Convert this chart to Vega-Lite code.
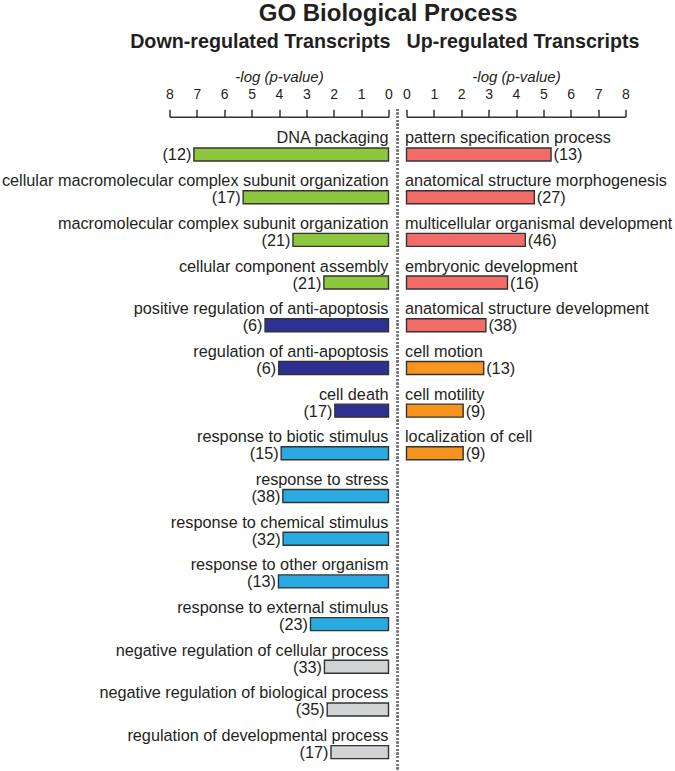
{
  "$schema": "https://vega.github.io/schema/vega-lite/v6.json",
  "padding": {"left": 1.5, "top": 2, "right": 0, "bottom": 0},
  "title": {"text": "GO Biological Process", "fontSize": 24, "fontWeight": "bold", "anchor": "middle", "offset": 6, "dx": 51},
  "datasets": {
    "down": [
      {"term": "DNA packaging", "logp": 7.11, "n": "(12)", "group": "green"},
      {"term": "cellular macromolecular complex subunit organization", "logp": 5.31, "n": "(17)", "group": "green"},
      {"term": "macromolecular complex subunit organization", "logp": 3.49, "n": "(21)", "group": "green"},
      {"term": "cellular component assembly", "logp": 2.36, "n": "(21)", "group": "green"},
      {"term": "positive regulation of anti-apoptosis", "logp": 4.51, "n": "(6)", "group": "navy"},
      {"term": "regulation of anti-apoptosis", "logp": 4.01, "n": "(6)", "group": "navy"},
      {"term": "cell death", "logp": 1.96, "n": "(17)", "group": "navy"},
      {"term": "response to biotic stimulus", "logp": 3.92, "n": "(15)", "group": "cyan"},
      {"term": "response to stress", "logp": 3.86, "n": "(38)", "group": "cyan"},
      {"term": "response to chemical stimulus", "logp": 3.85, "n": "(32)", "group": "cyan"},
      {"term": "response to other organism", "logp": 4.02, "n": "(13)", "group": "cyan"},
      {"term": "response to external stimulus", "logp": 2.85, "n": "(23)", "group": "cyan"},
      {"term": "negative regulation of cellular process\u00a0", "logp": 2.34, "n": "(33)", "group": "gray"},
      {"term": "negative regulation of biological process", "logp": 2.24, "n": "(35)", "group": "gray"},
      {"term": "regulation of developmental process", "logp": 2.1, "n": "(17)", "group": "gray"}
    ],
    "up": [
      {"term": "pattern specification process", "logp": 5.28, "n": "(13)", "group": "salmon"},
      {"term": "anatomical structure morphogenesis", "logp": 4.67, "n": "(27)", "group": "salmon"},
      {"term": "multicellular organismal development", "logp": 4.34, "n": "(46)", "group": "salmon"},
      {"term": "embryonic development", "logp": 3.69, "n": "(16)", "group": "salmon"},
      {"term": "anatomical structure development", "logp": 2.9, "n": "(38)", "group": "salmon"},
      {"term": "cell motion", "logp": 2.82, "n": "(13)", "group": "orange"},
      {"term": "cell motility", "logp": 2.07, "n": "(9)", "group": "orange"},
      {"term": "localization of cell", "logp": 2.07, "n": "(9)", "group": "orange"}
    ]
  },
  "spacing": 18,
  "bounds": "flush",
  "resolve": {"scale": {"x": "independent", "y": "independent", "color": "independent"}},
  "hconcat": [
    {
      "width": 219,
      "height": 663,
      "title": {"text": "Down-regulated Transcripts", "anchor": "end", "frame": "group", "dx": 2, "fontSize": 19.7, "fontWeight": "bold", "offset": 17.5},
      "data": {"name": "down"},
      "resolve": {"axis": {"x": "independent"}},
      "layer": [
        {
          "mark": {"type": "bar", "height": 13, "yOffset": 7, "stroke": "#333333", "strokeWidth": 1.4},
          "encoding": {
            "y": {"field": "term", "type": "nominal", "sort": null, "axis": null, "scale": {"paddingInner": 0, "paddingOuter": 0.2653, "align": 0.757, "round": false}},
            "x": {"field": "logp", "type": "quantitative", "scale": {"type": "linear", "domain": [0, 8], "reverse": true, "nice": false, "zero": false}, "axis": {"orient": "top", "title": "-log (p-value)", "values": [0, 1, 2, 3, 4, 5, 6, 7, 8], "tickCount": 20, "format": "d", "offset": -7.7}},
            "color": {"field": "group", "type": "nominal", "scale": {"domain": ["green", "navy", "cyan", "gray"], "range": ["#8DC63F", "#2E3192", "#29ABE2", "#D1D3D4"]}, "legend": null}
          }
        },
        {
          "mark": {"type": "text", "align": "right", "baseline": "alphabetic", "yOffset": -4, "fontSize": 16.25},
          "encoding": {
            "y": {"field": "term", "type": "nominal", "sort": null},
            "x": {"datum": 0, "type": "quantitative", "axis": null},
            "text": {"field": "term"}
          }
        },
        {
          "mark": {"type": "text", "align": "right", "baseline": "middle", "yOffset": 8, "dx": -2.5, "fontSize": 16.25},
          "encoding": {
            "y": {"field": "term", "type": "nominal", "sort": null},
            "x": {"field": "logp", "type": "quantitative", "axis": null},
            "text": {"field": "n"}
          }
        },
        {
          "mark": {"type": "rule", "color": "#777777", "strokeWidth": 1.6, "strokeDash": [1.6, 2.1]},
          "encoding": {"x": {"datum": -0.33, "type": "quantitative", "axis": null}}
        }
      ]
    },
    {
      "width": 219,
      "height": 364.17,
      "title": {"text": "Up-regulated Transcripts", "anchor": "start", "frame": "group", "fontSize": 19.7, "fontWeight": "bold", "offset": 17.5},
      "data": {"name": "up"},
      "resolve": {"axis": {"x": "independent"}},
      "layer": [
        {
          "mark": {"type": "bar", "height": 13, "yOffset": 7, "stroke": "#333333", "strokeWidth": 1.4},
          "encoding": {
            "y": {"field": "term", "type": "nominal", "sort": null, "axis": null, "scale": {"paddingInner": 0, "paddingOuter": 0.2653, "align": 0.757, "round": false}},
            "x": {"field": "logp", "type": "quantitative", "scale": {"type": "linear", "domain": [0, 8], "nice": false, "zero": false}, "axis": {"orient": "top", "title": "-log (p-value)", "values": [0, 1, 2, 3, 4, 5, 6, 7, 8], "tickCount": 20, "format": "d", "offset": -7.7}},
            "color": {"field": "group", "type": "nominal", "scale": {"domain": ["salmon", "orange"], "range": ["#F26C68", "#F7941D"]}, "legend": null}
          }
        },
        {
          "mark": {"type": "text", "align": "left", "baseline": "alphabetic", "yOffset": -4, "dx": -1.5, "fontSize": 16.25},
          "encoding": {
            "y": {"field": "term", "type": "nominal", "sort": null},
            "x": {"datum": 0, "type": "quantitative", "axis": null},
            "text": {"field": "term"}
          }
        },
        {
          "mark": {"type": "text", "align": "left", "baseline": "middle", "yOffset": 8, "dx": 2.5, "fontSize": 16.25},
          "encoding": {
            "y": {"field": "term", "type": "nominal", "sort": null},
            "x": {"field": "logp", "type": "quantitative", "axis": null},
            "text": {"field": "n"}
          }
        }
      ]
    }
  ],
  "config": {
    "font": "Liberation Sans",
    "view": {"stroke": null},
    "text": {"color": "#231f20"},
    "title": {"color": "#231f20", "font": "Liberation Sans"},
    "axis": {
      "grid": false,
      "domainColor": "#333333",
      "domainWidth": 1.5,
      "tickColor": "#333333",
      "tickWidth": 1.5,
      "tickSize": 7.5,
      "labelFontSize": 14,
      "labelColor": "#231f20",
      "labelPadding": 7.5,
      "labelFlush": false,
      "labelOverlap": false,
      "labelAngle": 0,
      "titleFontSize": 15,
      "titleFontStyle": "italic",
      "titleFontWeight": "normal",
      "titleColor": "#231f20",
      "titlePadding": 3.5
    }
  }
}
